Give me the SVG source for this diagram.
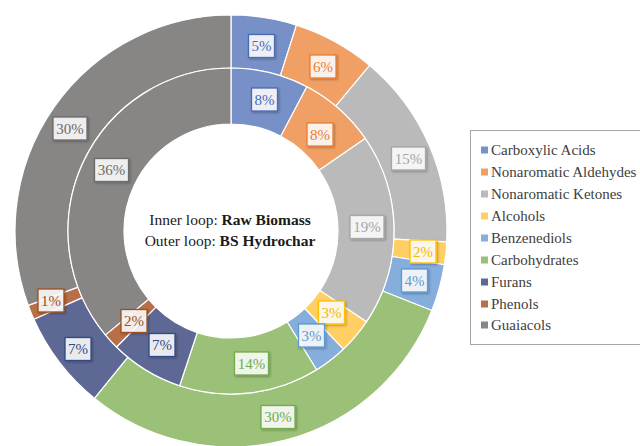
<svg xmlns="http://www.w3.org/2000/svg" width="640" height="446" viewBox="0 0 640 446">
<defs>
<style>
.seg{stroke:#fff;stroke-width:1.2;stroke-linejoin:round}
.lbl rect{fill:#fff;fill-opacity:.86;stroke-width:1.3;filter:url(#sh)}
.lbl text{font-family:"Liberation Serif","Times New Roman",serif;font-size:15px;text-anchor:middle}
.leg text{font-family:"Liberation Serif","Times New Roman",serif;font-size:15px;fill:#404040}
.ctr{font-family:"Liberation Serif","Times New Roman",serif;font-size:15.5px;fill:#1a1a1a;text-anchor:middle}
.c1{fill:#7791C8}.c2{fill:#F1A065}.c3{fill:#BBBABA}.c4{fill:#FFCF63}.c5{fill:#86AEDD}.c6{fill:#9BC178}.c7{fill:#5E6894}.c8{fill:#B86F48}.c9{fill:#888585}
.k1 rect{stroke:#4A6BB5}.k1 text{fill:#4A6BB5}
.k2 rect{stroke:#ED7D31}.k2 text{fill:#ED7D31}
.k3 rect{stroke:#A6A6A6}.k3 text{fill:#A6A6A6}
.k4 rect{stroke:#FFC000}.k4 text{fill:#F5B800}
.k5 rect{stroke:#5B9BD5}.k5 text{fill:#5B9BD5}
.k6 rect{stroke:#70AD47}.k6 text{fill:#70AD47}
.k7 rect{stroke:#2F4B85}.k7 text{fill:#2F4B85}
.k8 rect{stroke:#A0501E}.k8 text{fill:#A0501E}
.k9 rect{stroke:#6E6B6B}.k9 text{fill:#6E6B6B}
</style>
<filter id="sh" x="-30%" y="-30%" width="160%" height="160%">
<feDropShadow dx="1.2" dy="1.2" stdDeviation="1" flood-color="#000" flood-opacity="0.3"/>
</filter>
</defs>
<rect width="640" height="446" fill="#fff"/>

<g id="outer-ring">
<path id="o-carboxylic" class="seg c1" d="M231,15 A216,216 0 0 1 296.45,25.15 L280.39,75.66 A163,163 0 0 0 231,68 Z"/>
<path id="o-aldehydes" class="seg c2" d="M296.45,25.15 A216,216 0 0 1 369.74,65.44 L335.69,106.06 A163,163 0 0 0 280.39,75.66 Z"/>
<path id="o-ketones" class="seg c3" d="M369.74,65.44 A216,216 0 0 1 446.72,241.84 L393.79,239.18 A163,163 0 0 0 335.69,106.06 Z"/>
<path id="o-alcohols" class="seg c4" d="M446.72,241.84 A216,216 0 0 1 444.34,264.78 L392,256.49 A163,163 0 0 0 393.79,239.18 Z"/>
<path id="o-benzenediols" class="seg c5" d="M444.34,264.78 A216,216 0 0 1 431.84,310.51 L382.56,291 A163,163 0 0 0 392,256.49 Z"/>
<path id="o-carbohydrates" class="seg c6" d="M431.84,310.51 A216,216 0 0 1 94.36,398.29 L127.89,357.24 A163,163 0 0 0 382.56,291 Z"/>
<path id="o-furans" class="seg c7" d="M94.36,398.29 A216,216 0 0 1 33.86,319.26 L82.23,297.6 A163,163 0 0 0 127.89,357.24 Z"/>
<path id="o-phenols" class="seg c8" d="M33.86,319.26 A216,216 0 0 1 28.24,305.43 L77.99,287.17 A163,163 0 0 0 82.23,297.6 Z"/>
<path id="o-guaiacols" class="seg c9" d="M28.24,305.43 A216,216 0 0 1 231,15 L231,68 A163,163 0 0 0 77.99,287.17 Z"/>
</g>

<g id="inner-ring">
<path id="i-carboxylic" class="seg c1" d="M231,68 A163,163 0 0 1 306.83,86.71 L280.78,136.28 A107,107 0 0 0 231,124 Z"/>
<path id="i-aldehydes" class="seg c2" d="M306.83,86.71 A163,163 0 0 1 365.23,138.53 L319.11,170.3 A107,107 0 0 0 280.78,136.28 Z"/>
<path id="i-ketones" class="seg c3" d="M365.23,138.53 A163,163 0 0 1 366.39,321.77 L319.87,290.59 A107,107 0 0 0 319.11,170.3 Z"/>
<path id="i-alcohols" class="seg c4" d="M366.39,321.77 A163,163 0 0 1 343.32,349.11 L304.73,308.53 A107,107 0 0 0 319.87,290.59 Z"/>
<path id="i-benzenediols" class="seg c5" d="M343.32,349.11 A163,163 0 0 1 316.59,369.7 L287.19,322.05 A107,107 0 0 0 304.73,308.53 Z"/>
<path id="i-carbohydrates" class="seg c6" d="M316.59,369.7 A163,163 0 0 1 179.65,385.72 L197.29,332.56 A107,107 0 0 0 287.19,322.05 Z"/>
<path id="i-furans" class="seg c7" d="M179.65,385.72 A163,163 0 0 1 116.48,346.97 L155.82,307.13 A107,107 0 0 0 197.29,332.56 Z"/>
<path id="i-phenols" class="seg c8" d="M116.48,346.97 A163,163 0 0 1 105.42,334.9 L148.57,299.2 A107,107 0 0 0 155.82,307.13 Z"/>
<path id="i-guaiacols" class="seg c9" d="M105.42,334.9 A163,163 0 0 1 231,68 L231,124 A107,107 0 0 0 148.57,299.2 Z"/>
</g>

<g id="labels">
<g class="lbl k1"><rect x="248.5" y="34.5" width="26" height="23"/><text x="261.5" y="51">5%</text></g>
<g class="lbl k2"><rect x="310" y="55" width="26" height="23"/><text x="323" y="71.5">6%</text></g>
<g class="lbl k3"><rect x="391.5" y="147" width="34" height="23"/><text x="408.5" y="163.5">15%</text></g>
<g class="lbl k4"><rect x="410" y="240" width="26" height="23"/><text x="423" y="256.5">2%</text></g>
<g class="lbl k5"><rect x="401.5" y="269" width="26" height="23"/><text x="414.5" y="285.5">4%</text></g>
<g class="lbl k6"><rect x="261" y="405.5" width="34" height="23"/><text x="278" y="422">30%</text></g>
<g class="lbl k7"><rect x="65" y="337.5" width="26" height="23"/><text x="78" y="354">7%</text></g>
<g class="lbl k8"><rect x="38" y="289" width="26" height="23"/><text x="51" y="305.5">1%</text></g>
<g class="lbl k9"><rect x="53" y="117" width="34" height="23"/><text x="70" y="133.5">30%</text></g>

<g class="lbl k1"><rect x="251.5" y="88" width="26" height="23"/><text x="264.5" y="104.5">8%</text></g>
<g class="lbl k2"><rect x="307" y="123" width="26" height="23"/><text x="320" y="139.5">8%</text></g>
<g class="lbl k3"><rect x="350" y="215.5" width="34" height="23"/><text x="367" y="232">19%</text></g>
<g class="lbl k4"><rect x="318.5" y="301" width="26" height="23"/><text x="331.5" y="317.5">3%</text></g>
<g class="lbl k5"><rect x="298.5" y="324" width="26" height="23"/><text x="311.5" y="340.5">3%</text></g>
<g class="lbl k6"><rect x="234.5" y="352" width="34" height="23"/><text x="251.5" y="368.5">14%</text></g>
<g class="lbl k7"><rect x="149" y="333.5" width="26" height="23"/><text x="162" y="350">7%</text></g>
<g class="lbl k8"><rect x="121" y="309.5" width="26" height="23"/><text x="134" y="326">2%</text></g>
<g class="lbl k9"><rect x="94.5" y="158.5" width="34" height="23"/><text x="111.5" y="175">36%</text></g>
</g>

<g id="center-title">
<text class="ctr" x="230" y="225">Inner loop: <tspan font-weight="bold">Raw Biomass</tspan></text>
<text class="ctr" x="230" y="246">Outer loop: <tspan font-weight="bold">BS Hydrochar</tspan></text>
</g>

<g id="legend" class="leg">
<rect x="470.5" y="130.5" width="180" height="214" fill="#fff" stroke="#A6A6A6" stroke-width="1"/>
<rect class="c1" x="481" y="146.5" width="7" height="7"/><text x="491" y="155">Carboxylic Acids</text>
<rect class="c2" x="481" y="168.5" width="7" height="7"/><text x="491" y="177">Nonaromatic Aldehydes</text>
<rect class="c3" x="481" y="190.5" width="7" height="7"/><text x="491" y="199">Nonaromatic Ketones</text>
<rect class="c4" x="481" y="212.5" width="7" height="7"/><text x="491" y="221">Alcohols</text>
<rect class="c5" x="481" y="234.5" width="7" height="7"/><text x="491" y="243">Benzenediols</text>
<rect class="c6" x="481" y="256.5" width="7" height="7"/><text x="491" y="265">Carbohydrates</text>
<rect class="c7" x="481" y="278.5" width="7" height="7"/><text x="491" y="287">Furans</text>
<rect class="c8" x="481" y="300.5" width="7" height="7"/><text x="491" y="309">Phenols</text>
<rect class="c9" x="481" y="321.5" width="7" height="7"/><text x="491" y="330">Guaiacols</text>
</g>
</svg>
